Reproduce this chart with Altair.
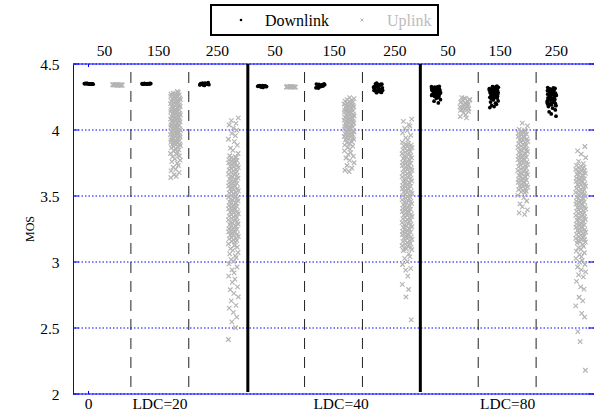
import altair as alt
import pandas as pd

# ---------------- data (MOS in thousandths) ----------------
series_names = ["Downlink", "Uplink"]
series_colors = ["#000000", "#b4b4b4"]
load_labels = ["50", "150", "250", "50", "150", "250", "50", "150", "250"]
bottom_labels = ["0", "LDC=20", "LDC=40", "LDC=80"]
y_ticks = [2, 2.5, 3, 3.5, 4, 4.5]

L20_DL50 = [4352, 4348, 4351, 4349, 4353, 4350, 4347, 4352, 4349, 4351, 4350, 4348, 4353, 4350]
L20_UL50 = [4343, 4340, 4342, 4339, 4344, 4341, 4340, 4343, 4342, 4339, 4341, 4344, 4340, 4342]
L20_DL150 = [4351, 4348, 4353, 4349, 4350, 4352, 4347, 4351, 4349, 4353, 4350, 4348, 4352, 4350]
L20_UL150 = [4292, 4284, 4279, 4275, 4271, 4266, 4262, 4259, 4255, 4250, 4247, 4243, 4238, 4236, 4231,
             4226, 4223, 4219, 4214, 4211, 4207, 4202, 4199, 4195, 4190, 4187, 4182, 4178, 4175, 4170,
             4166, 4163, 4158, 4154, 4151, 4146, 4142, 4139, 4134, 4130, 4127, 4122, 4118, 4115, 4110,
             4106, 4103, 4098, 4094, 4091, 4086, 4082, 4079, 4074, 4070, 4067, 4062, 4058, 4055, 4050,
             4046, 4043, 4038, 4034, 4031, 4026, 4022, 4019, 4014, 4010, 4007, 4002, 3998, 3995, 3990,
             3986, 3983, 3978, 3974, 3971, 3966, 3962, 3959, 3954, 3950, 3947, 3942, 3938, 3935, 3930,
             3926, 3923, 3918, 3914, 3911, 3906, 3902, 3899, 3894, 3890, 3887, 3882, 3876, 3871, 3865,
             3858, 3850, 3841, 3833, 3822, 3815, 3803, 3796, 3782, 3771, 3760, 3748, 3731, 3718, 3702,
             3690, 3677, 3661, 3648, 3640]
L20_DL250 = [4355, 4345, 4350, 4340, 4358, 4348, 4352, 4343, 4356, 4347, 4351, 4338, 4354, 4346, 4349, 4341]
L20_UL250 = [4092, 4071, 4050, 4038, 4015, 3998, 3975, 3957, 3930, 3912, 3885, 3862, 3846, 3822,
             3805, 3798, 3792, 3787, 3780, 3774, 3769, 3762, 3756, 3751, 3744, 3738, 3733, 3726, 3720,
             3715, 3708, 3702, 3697, 3690, 3684, 3679, 3672, 3666, 3661, 3654, 3648, 3643, 3636, 3630,
             3625, 3618, 3612, 3607, 3600, 3594, 3589, 3582, 3576, 3571, 3564, 3558, 3553, 3546, 3540,
             3535, 3528, 3522, 3517, 3510, 3504, 3499, 3492, 3486, 3481, 3474, 3468, 3463, 3456, 3450,
             3445, 3438, 3432, 3427, 3420, 3414, 3409, 3402, 3396, 3391, 3384, 3378, 3373, 3366, 3360,
             3355, 3348, 3342, 3337, 3330, 3324, 3319, 3312, 3306, 3301, 3294, 3288, 3283, 3276, 3270,
             3265, 3258, 3252, 3247, 3240, 3234, 3229, 3222, 3216, 3211, 3204, 3198, 3193, 3186, 3180,
             3175, 3168, 3162, 3157, 3150, 3138, 3125, 3112, 3101, 3088, 3072, 3061, 3047, 3033, 3018,
             3004, 2985, 2962, 2941, 2918, 2893, 2870, 2846, 2811, 2790, 2762, 2735, 2705, 2672, 2651,
             2618, 2583, 2546, 2502, 2413]

L40_DL50 = [4335, 4331, 4334, 4330, 4336, 4333, 4329, 4335, 4332, 4334, 4330, 4336, 4333, 4331, 4325, 4322]
L40_UL50 = [4328, 4325, 4327, 4324, 4329, 4326, 4325, 4328, 4327, 4324, 4326, 4329, 4325, 4327]
L40_DL150 = [4345, 4335, 4320, 4340, 4330, 4350, 4325, 4338, 4343, 4318, 4333, 4348, 4328, 4336, 4323, 4341]
L40_UL150 = [4245, 4238, 4230, 4226, 4219, 4215, 4210, 4206, 4201, 4197, 4193, 4189, 4184, 4180, 4176,
             4172, 4167, 4163, 4159, 4155, 4150, 4146, 4142, 4138, 4133, 4129, 4125, 4121, 4116, 4112,
             4108, 4104, 4099, 4095, 4091, 4087, 4082, 4078, 4074, 4070, 4065, 4061, 4057, 4053, 4048,
             4044, 4040, 4036, 4031, 4027, 4023, 4019, 4014, 4010, 4006, 4002, 3997, 3993, 3989, 3985,
             3980, 3976, 3972, 3968, 3963, 3959, 3955, 3951, 3946, 3942, 3938, 3934, 3929, 3925, 3918,
             3910, 3903, 3895, 3886, 3878, 3866, 3855, 3842, 3828, 3815, 3801, 3788, 3770, 3752, 3731,
             3712, 3695, 3684]
L40_DL250 = [4355, 4340, 4325, 4310, 4295, 4350, 4335, 4320, 4305, 4290, 4345, 4330, 4315, 4300, 4285,
             4352, 4338, 4322, 4308, 4292, 4347, 4332, 4318, 4302, 4288, 4343, 4327, 4312, 4297, 4283]
L40_UL250 = [4082, 4065, 4041, 4030, 4012, 3995, 3978, 3960, 3941, 3925, 3908,
             3897, 3892, 3885, 3879, 3874, 3867, 3861, 3856, 3849, 3843, 3838, 3831, 3825, 3820, 3813,
             3807, 3802, 3795, 3789, 3784, 3777, 3771, 3766, 3759, 3753, 3748, 3741, 3735, 3730, 3723,
             3717, 3712, 3705, 3699, 3694, 3687, 3681, 3676, 3669, 3663, 3658, 3651, 3645, 3640, 3633,
             3627, 3622, 3615, 3609, 3604, 3597, 3591, 3586, 3579, 3573, 3568, 3561, 3555, 3550, 3543,
             3537, 3532, 3525, 3519, 3514, 3507, 3501, 3496, 3489, 3483, 3478, 3471, 3465, 3460, 3453,
             3447, 3442, 3435, 3429, 3424, 3417, 3411, 3406, 3399, 3393, 3388, 3381, 3375, 3370, 3363,
             3357, 3352, 3345, 3339, 3334, 3327, 3321, 3316, 3309, 3303, 3298, 3291, 3285, 3280, 3273,
             3267, 3262, 3255, 3249, 3244, 3237, 3231, 3226, 3219, 3213, 3208, 3201, 3195, 3190, 3183,
             3177, 3172, 3165, 3159, 3154, 3147, 3141, 3136, 3129, 3123, 3118, 3111, 3105, 3100, 3093,
             3087, 3062, 3041, 3028, 3003, 2981, 2952, 2938, 2893, 2831, 2792, 2735, 2561]

L80_DL50 = [4330, 4325, 4320, 4315, 4310, 4305, 4300, 4295, 4290, 4285, 4280, 4275, 4270, 4265, 4260,
            4255, 4250, 4328, 4318, 4308, 4298, 4288, 4278, 4268, 4258, 4248, 4322, 4312, 4302, 4292,
            4282, 4272, 4262, 4326, 4306, 4286, 4266, 4240, 4230, 4218, 4205]
L80_UL50 = [4245, 4238, 4231, 4224, 4217, 4210, 4203, 4196, 4189, 4182, 4175, 4168, 4161, 4154, 4241,
            4227, 4213, 4199, 4185, 4171, 4157, 4148, 4140, 4128, 4115, 4102, 4092]
L80_DL150 = [4332, 4326, 4320, 4314, 4308, 4302, 4296, 4290, 4284, 4278, 4272, 4266, 4260, 4254, 4248,
             4242, 4329, 4317, 4305, 4293, 4281, 4269, 4257, 4245, 4323, 4311, 4299, 4287, 4275, 4263,
             4251, 4327, 4303, 4279, 4255, 4236, 4228, 4220, 4212, 4203, 4195, 4186, 4178, 4170]
L80_UL150 = [4052, 4031, 4005, 3999, 3992, 3986, 3981, 3974, 3968, 3963, 3956, 3950, 3945, 3938, 3932,
             3927, 3920, 3914, 3909, 3902, 3896, 3891, 3884, 3878, 3873, 3866, 3860, 3855, 3848, 3842,
             3837, 3830, 3824, 3819, 3812, 3806, 3801, 3794, 3788, 3783, 3776, 3770, 3765, 3758, 3752,
             3747, 3740, 3734, 3729, 3722, 3716, 3711, 3704, 3698, 3693, 3686, 3680, 3675, 3668, 3662,
             3657, 3650, 3644, 3639, 3632, 3626, 3621, 3614, 3608, 3603, 3596, 3590, 3585, 3578, 3572,
             3567, 3560, 3554, 3549, 3542, 3536, 3531, 3524, 3505, 3488, 3462, 3441, 3418, 3395, 3372, 3361]
L80_DL250 = [4322, 4316, 4310, 4304, 4298, 4292, 4286, 4280, 4274, 4268, 4262, 4256, 4250, 4244, 4238,
             4232, 4226, 4220, 4214, 4208, 4202, 4196, 4190, 4184, 4178, 4319, 4307, 4295, 4283, 4271,
             4259, 4247, 4235, 4223, 4211, 4199, 4187, 4313, 4289, 4265, 4241, 4217, 4193, 4301, 4277,
             4253, 4229, 4205, 4165, 4152, 4138, 4122, 4105]
L80_UL250 = [3875, 3842, 3818, 3790, 3762, 3745,
             3732, 3726, 3719, 3713, 3708, 3701, 3695, 3690, 3683, 3677, 3672, 3665, 3659, 3654, 3647,
             3641, 3636, 3629, 3623, 3618, 3611, 3605, 3600, 3593, 3587, 3582, 3575, 3569, 3564, 3557,
             3551, 3546, 3539, 3533, 3528, 3521, 3515, 3510, 3503, 3497, 3492, 3485, 3479, 3474, 3467,
             3461, 3456, 3449, 3443, 3438, 3431, 3425, 3420, 3413, 3407, 3402, 3395, 3389, 3384, 3377,
             3371, 3366, 3359, 3353, 3348, 3341, 3335, 3330, 3323, 3317, 3312, 3305, 3299, 3294, 3287,
             3281, 3276, 3269, 3263, 3258, 3251, 3245, 3240, 3233, 3227, 3222, 3215, 3209, 3204, 3197,
             3191, 3186, 3179, 3173, 3168, 3161, 3155, 3150, 3143, 3130, 3118, 3109, 3095, 3082, 3070,
             3055, 3041, 3028, 3012, 2998, 2981, 2962, 2941, 2925, 2902, 2887, 2853, 2812, 2795, 2733,
             2705, 2668, 2611, 2583, 2472, 2396, 2180]

# sample-order jitter inside each strip
JITTER = [-0.9, 0.3, -0.2, 0.8, -0.6, 0.1, 0.95, -0.4, 0.5, -0.8, 0.0, 0.65, -0.3, 0.4, -0.95,
          0.2, 0.75, -0.55, -0.1, 0.9, -0.7, 0.35, 0.55, -0.45, 0.05, -0.85, 0.7, -0.25, 0.15]

# (section index, series, samples)
clusters = [
    (0, "Downlink", L20_DL50), (0, "Uplink", L20_UL50),
    (1, "Downlink", L20_DL150), (1, "Uplink", L20_UL150),
    (2, "Downlink", L20_DL250), (2, "Uplink", L20_UL250),
    (3, "Downlink", L40_DL50), (3, "Uplink", L40_UL50),
    (4, "Downlink", L40_DL150), (4, "Uplink", L40_UL150),
    (5, "Downlink", L40_DL250), (5, "Uplink", L40_UL250),
    (6, "Downlink", L80_DL50), (6, "Uplink", L80_UL50),
    (7, "Downlink", L80_DL150), (7, "Uplink", L80_UL150),
    (8, "Downlink", L80_DL250), (8, "Uplink", L80_UL250),
]

# ---------------- layout positions (x in section units) ----------------
series_center = {"Downlink": 0.27, "Uplink": 0.77}
series_halfwidth = {"Downlink": 0.082, "Uplink": 0.09}
top_label_pos = [0.544, 1.477, 2.496, 3.489, 4.51, 5.56, 6.48, 7.38, 8.35]
bottom_label_pos = [0.268, 1.503, 4.63, 7.51]
dashed_pos = [1, 2, 4, 5, 7, 8]
solid_pos = [3.02, 6.0]

rows = []
for ci, (sec, ser, vals) in enumerate(clusters):
    for j, v in enumerate(vals):
        jit = JITTER[(j + 7 * ci) % len(JITTER)]
        rows.append({"series": ser,
                     "x": sec + series_center[ser] + series_halfwidth[ser] * jit,
                     "mos": v / 1000.0})
df = pd.DataFrame(rows)

W, H = 521, 330
FONT = "Liberation Serif, Times New Roman, serif"
BLUE = "#0000ff"
xs = alt.Scale(domain=[0, 9], nice=False, zero=False)
ys = alt.Scale(domain=[2, 4.5], nice=False, zero=False)

# grid + y axis
grid = alt.Chart(pd.DataFrame({"y": y_ticks})).mark_rule(
    color=BLUE, strokeDash=[1.5, 2], strokeWidth=1
).encode(
    y=alt.Y("y:Q", scale=ys, axis=alt.Axis(
        values=y_ticks, format="~g", title=None, domainColor=BLUE, domainWidth=1,
        ticks=False, labelPadding=14, labelFont=FONT, labelFontSize=15.5,
        labelColor="black", grid=False)),
)

borders = alt.Chart(pd.DataFrame({"y": [2, 4.5]})).mark_rule(color=BLUE, strokeWidth=1).encode(
    y=alt.Y("y:Q", scale=ys))

tick_df = pd.DataFrame({
    "x": [0, 0, 0, 0, 0, 0, 8.9, 8.9, 8.9, 8.9, 8.9, 8.9],
    "x2": [0.1] * 6 + [9.0] * 6,
    "y": y_ticks + y_ticks,
})
yticks_in = alt.Chart(tick_df).mark_rule(color=BLUE, strokeWidth=1).encode(
    x=alt.X("x:Q", scale=xs, axis=None), x2="x2:Q", y=alt.Y("y:Q", scale=ys))

xtick_df = pd.DataFrame({"x": [bottom_label_pos[0]] * 2, "y": [2.0, 4.5], "y2": [2.023, 4.477]})
xticks_in = alt.Chart(xtick_df).mark_rule(color=BLUE, strokeWidth=1).encode(
    x=alt.X("x:Q", scale=xs, axis=None), y=alt.Y("y:Q", scale=ys), y2="y2:Q")

dashed = alt.Chart(pd.DataFrame({"x": dashed_pos, "y": [4.5] * 6, "y2": [2.0] * 6})).mark_rule(
    color="#222222", strokeWidth=1, strokeDash=[11, 8], strokeDashOffset=11
).encode(x=alt.X("x:Q", scale=xs, axis=None), y=alt.Y("y:Q", scale=ys), y2="y2:Q")

solid = alt.Chart(pd.DataFrame({"x": solid_pos, "y": [4.5] * 2, "y2": [2.015] * 2})).mark_rule(
    color="black", strokeWidth=3
).encode(x=alt.X("x:Q", scale=xs, axis=None), y=alt.Y("y:Q", scale=ys), y2="y2:Q")

XSHAPE = "M-1,-1L1,1M-1,1L1,-1"
up = alt.Chart(df[df.series == "Uplink"]).mark_point(
    shape=XSHAPE, filled=False, stroke=series_colors[1], strokeWidth=1.15, size=20, opacity=1
).encode(x=alt.X("x:Q", scale=xs, axis=None), y=alt.Y("mos:Q", scale=ys))

down = alt.Chart(df[df.series == "Downlink"]).mark_circle(
    color=series_colors[0], size=14, opacity=1
).encode(x=alt.X("x:Q", scale=xs, axis=None), y=alt.Y("mos:Q", scale=ys))

top_labels = alt.Chart(pd.DataFrame({"x": top_label_pos, "t": load_labels})).mark_text(
    font=FONT, fontSize=15.5, color="black", align="center", baseline="alphabetic"
).encode(x=alt.X("x:Q", scale=xs, axis=None), y=alt.value(-8), text="t:N")

bot_labels = alt.Chart(pd.DataFrame({"x": bottom_label_pos, "t": bottom_labels})).mark_text(
    font=FONT, fontSize=15.5, color="black", align="center", baseline="alphabetic"
).encode(x=alt.X("x:Q", scale=xs, axis=None), y=alt.value(345), text="t:N")

ytitle = alt.Chart(pd.DataFrame({"t": ["MOS"]})).mark_text(
    font=FONT, fontSize=12, color="black", angle=270, align="center", baseline="middle"
).encode(x=alt.value(-43), y=alt.value(H / 2), text="t:N")

# legend box (pixel positions relative to plot origin)
leg_box = alt.Chart(pd.DataFrame({"a": [0]})).mark_rect(
    fill="white", stroke="black", strokeWidth=2
).encode(x=alt.value(138), x2=alt.value(365), y=alt.value(-59), y2=alt.value(-29))

leg_dot = alt.Chart(pd.DataFrame({"a": [0]})).mark_circle(color=series_colors[0], size=7, opacity=1).encode(
    x=alt.value(168), y=alt.value(-44))
leg_x = alt.Chart(pd.DataFrame({"a": [0]})).mark_point(
    shape=XSHAPE, filled=False, stroke=series_colors[1], strokeWidth=1, size=9, opacity=1
).encode(x=alt.value(289), y=alt.value(-44))
leg_t1 = alt.Chart(pd.DataFrame({"t": [series_names[0]]})).mark_text(
    font=FONT, fontSize=16, color=series_colors[0], align="left", baseline="alphabetic"
).encode(x=alt.value(192), y=alt.value(-38), text="t:N")
leg_t2 = alt.Chart(pd.DataFrame({"t": [series_names[1]]})).mark_text(
    font=FONT, fontSize=16, color="#bbbbbb", align="left", baseline="alphabetic"
).encode(x=alt.value(314), y=alt.value(-38), text="t:N")

chart = alt.layer(
    grid, borders, yticks_in, xticks_in, dashed, solid, up, down,
    top_labels, bot_labels, ytitle, leg_box, leg_dot, leg_x, leg_t1, leg_t2
).properties(
    width=W, height=H,
    autosize=alt.AutoSizeParams(type="none"),
    padding={"left": 73, "top": 64, "right": 0, "bottom": 20},
    background="white",
).configure_view(stroke=None)

chart.save("out.html", embed_options={"renderer": "svg", "actions": False})
